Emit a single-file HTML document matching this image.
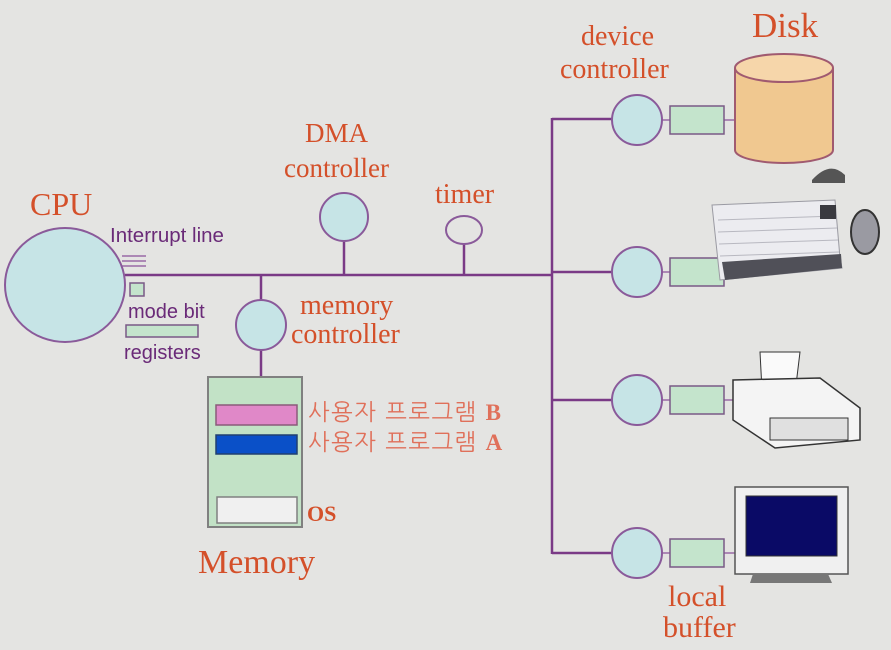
<!DOCTYPE html>
<html><head><meta charset="utf-8"><style>
html,body{margin:0;padding:0;background:#e4e4e2;}
svg{display:block}
.o{font-family:"Liberation Serif",serif;fill:#d4502a;}
.p{font-family:"Liberation Sans",sans-serif;fill:#6a2a78;}
.k{font-family:"Liberation Sans","NanumGothic","Noto Sans CJK KR",sans-serif;fill:#e0705a;}
</style></head><body>
<svg width="891" height="650" viewBox="0 0 891 650" xmlns="http://www.w3.org/2000/svg">
<rect width="891" height="650" fill="#e4e4e2"/>
<g stroke="#7a3a86" stroke-width="2.5" fill="none">
<line x1="125" y1="275" x2="553" y2="275"/>
<line x1="552" y1="118" x2="552" y2="554"/>
<line x1="552" y1="119" x2="612" y2="119"/>
<line x1="552" y1="272" x2="612" y2="272"/>
<line x1="552" y1="400" x2="612" y2="400"/>
<line x1="552" y1="553" x2="612" y2="553"/>
<line x1="344" y1="242" x2="344" y2="275"/>
<line x1="464" y1="244" x2="464" y2="275"/>
<line x1="261" y1="275" x2="261" y2="300"/>
<line x1="261" y1="350" x2="261" y2="377"/>
</g>
<g stroke="#9a6aa6" stroke-width="1.5">
<line x1="122" y1="256" x2="146" y2="256"/>
<line x1="122" y1="261" x2="146" y2="261"/>
<line x1="122" y1="266" x2="146" y2="266"/>
<line x1="662" y1="120" x2="670" y2="120"/><line x1="724" y1="120" x2="735" y2="120"/>
<line x1="662" y1="272" x2="670" y2="272"/>
<line x1="662" y1="400" x2="670" y2="400"/><line x1="724" y1="400" x2="735" y2="400"/>
<line x1="662" y1="553" x2="670" y2="553"/><line x1="724" y1="553" x2="735" y2="553"/>
</g>
<g fill="#c6e4e6" stroke="#8a5a9a" stroke-width="2">
<ellipse cx="65" cy="285" rx="60" ry="57"/>
<circle cx="344" cy="217" r="24"/>
<ellipse cx="464" cy="230" rx="18" ry="14" fill="#e4e4e2"/>
<circle cx="261" cy="325" r="25"/>
<circle cx="637" cy="120" r="25"/>
<circle cx="637" cy="272" r="25"/>
<circle cx="637" cy="400" r="25"/>
<circle cx="637" cy="553" r="25"/>
</g>
<g fill="#c4e4cc" stroke="#7a5a86" stroke-width="1.5">
<rect x="130" y="283" width="14" height="13"/>
<rect x="126" y="325" width="72" height="12"/>
<rect x="670" y="106" width="54" height="28"/>
<rect x="670" y="258" width="54" height="28"/>
<rect x="670" y="386" width="54" height="28"/>
<rect x="670" y="539" width="54" height="28"/>
<rect x="208" y="377" width="94" height="150" fill="#c2e2c6" stroke="#808080" stroke-width="2"/>
<rect x="216" y="405" width="81" height="20" fill="#e088c8" stroke="#8a5a7a"/>
<rect x="216" y="435" width="81" height="19" fill="#0a50c8" stroke="#204070"/>
<rect x="217" y="497" width="80" height="26" fill="#f0f0f0" stroke="#808080"/>
</g>
<path d="M735 68 L735 150 A49 13 0 0 0 833 150 L833 68" fill="#f0c890" stroke="#a05a70" stroke-width="2"/>
<ellipse cx="784" cy="68" rx="49" ry="14" fill="#f6d6aa" stroke="#a05a70" stroke-width="2"/>
<path d="M712 205 L835 200 L840 258 L842 268 L720 280 Z" fill="#ececf0" stroke="#9a9aa2"/>
<g stroke="#b8b8c0" stroke-width="1">
<line x1="718" y1="220" x2="836" y2="216"/><line x1="718" y1="232" x2="837" y2="228"/><line x1="719" y1="244" x2="838" y2="240"/><line x1="720" y1="256" x2="839" y2="252"/>
</g>
<path d="M722 262 L841 254 L842 268 L725 280 Z" fill="#505058"/>
<rect x="820" y="205" width="16" height="14" fill="#3a3a40"/>
<ellipse cx="865" cy="232" rx="14" ry="22" fill="#9a9aa2" stroke="#333" stroke-width="2"/>
<path d="M812 180 Q830 160 845 175 L845 183 L812 183Z" fill="#555"/>
<path d="M760 352 L800 352 L796 385 L762 390 Z" fill="#fafafa" stroke="#333"/>
<path d="M733 380 L820 378 L860 408 L860 440 L775 448 L733 420 Z" fill="#f4f4f4" stroke="#333" stroke-width="1.5"/>
<rect x="770" y="418" width="78" height="22" fill="#e0e0e0" stroke="#333"/>
<rect x="735" y="487" width="113" height="87" fill="#f0f0f0" stroke="#555" stroke-width="1.5"/>
<rect x="746" y="496" width="91" height="60" fill="#0a0a66" stroke="#333"/>
<path d="M753 574 L828 574 L832 583 L750 583Z" fill="#777"/>
<text class="o" x="30" y="215" font-size="32">CPU</text>
<text class="p" x="110" y="242" font-size="20.5">Interrupt line</text>
<text class="p" x="128" y="318" font-size="20">mode bit</text>
<text class="p" x="124" y="359" font-size="20">registers</text>
<text class="o" x="305" y="142" font-size="27">DMA</text>
<text class="o" x="284" y="177" font-size="27">controller</text>
<text class="o" x="435" y="203" font-size="28">timer</text>
<text class="o" x="300" y="314" font-size="28">memory</text>
<text class="o" x="291" y="343" font-size="28">controller</text>
<text class="o" x="581" y="45" font-size="28">device</text>
<text class="o" x="560" y="78" font-size="28">controller</text>
<text class="o" x="752" y="37" font-size="35">Disk</text>
<text class="k" x="308" y="420" font-size="23" letter-spacing="1.5">사용자 프로그램 <tspan font-family="Liberation Serif" font-weight="bold">B</tspan></text>
<text class="k" x="308" y="450" font-size="23" letter-spacing="1.5">사용자 프로그램 <tspan font-family="Liberation Serif" font-weight="bold">A</tspan></text>
<text class="o" x="307" y="521" font-size="22" font-weight="bold">OS</text>
<text class="o" x="198" y="573" font-size="34">Memory</text>
<text class="o" x="668" y="606" font-size="30">local</text>
<text class="o" x="663" y="637" font-size="30">buffer</text>
</svg>
</body></html>
